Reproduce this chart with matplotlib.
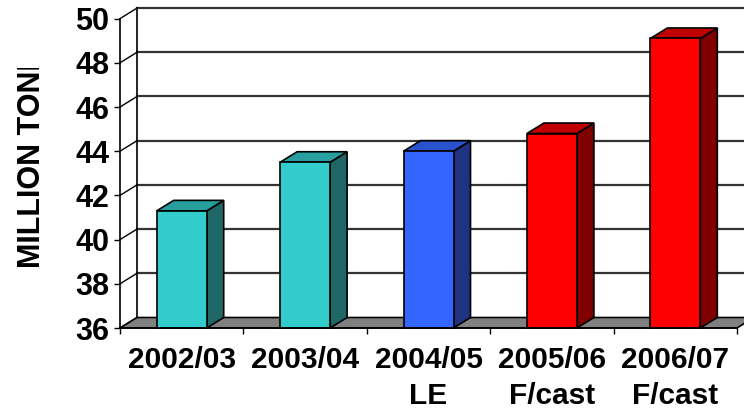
import numpy as np
import matplotlib
matplotlib.use("Agg")
import matplotlib.pyplot as plt
from matplotlib.patches import Polygon
from matplotlib.transforms import Bbox, TransformedBbox

categories = ["2002/03", "2003/04", "2004/05\nLE", "2005/06\nF/cast", "2006/07\nF/cast"]
values = [41.3, 43.5, 44.0, 44.8, 49.1]
face_colors = ["#33CCCC", "#33CCCC", "#3366FF", "#FF0000", "#FF0000"]
side_colors = ["#1F6666", "#1F6666", "#1F3380", "#800000", "#800000"]
top_colors = ["#299E9E", "#299E9E", "#2952CC", "#C00000", "#C00000"]
y_ticks = [36, 38, 40, 42, 44, 46, 48, 50]

plt.rcParams["font.family"] = ["Liberation Sans", "DejaVu Sans"]

fig = plt.figure(figsize=(7.44, 4.11), dpi=100)
ax = fig.add_axes([120 / 744, 83 / 411, 617 / 744, 309.4 / 411])
ax.set_xlim(0, 5)
ax.set_ylim(36, 50)

# depth offset of the pseudo-3D box, in data units
ddx = 17 / 123.4
ddy = 10.5 / 22.1
ymin, ymax = 36, 50
n = len(categories)

# floor
floor = Polygon([(0, ymin), (n, ymin), (n + ddx, ymin + ddy), (ddx, ymin + ddy)],
                closed=True, facecolor="#808080", edgecolor="black", lw=1.2,
                clip_on=False, zorder=1)
ax.add_patch(floor)

# back wall gridlines and side wall diagonals
for y in y_ticks:
    if y > ymin:
        ax.plot([ddx, n + ddx + 1], [y + ddy, y + ddy], color="#333333", lw=1.6,
                clip_on=False, zorder=0.5)
    ax.plot([0, ddx], [y, y + ddy], color="black", lw=1.0, clip_on=False, zorder=0.6)
ax.plot([ddx, ddx], [ymin + ddy, ymax + ddy], color="black", lw=1.2, clip_on=False, zorder=0.6)

# bars
w = 50 / 123.4
for i, (v, fc, sc, tc) in enumerate(zip(values, face_colors, side_colors, top_colors)):
    x0 = i + 0.5 - w / 2
    x1 = x0 + w
    front = Polygon([(x0, ymin), (x1, ymin), (x1, v), (x0, v)], facecolor=fc,
                    edgecolor="black", lw=1.2, clip_on=False, zorder=3)
    side = Polygon([(x1, ymin), (x1 + ddx, ymin + ddy), (x1 + ddx, v + ddy), (x1, v)],
                   facecolor=sc, edgecolor="black", lw=1.2, clip_on=False, zorder=2.9)
    top = Polygon([(x0, v), (x1, v), (x1 + ddx, v + ddy), (x0 + ddx, v + ddy)],
                  facecolor=tc, edgecolor="black", lw=1.2, clip_on=False, zorder=2.9)
    for p in (side, top, front):
        ax.add_patch(p)

for s in ["top", "right"]:
    ax.spines[s].set_visible(False)
ax.spines["left"].set_linewidth(1.2)
ax.spines["bottom"].set_linewidth(1.2)
ax.spines["bottom"].set_zorder(4)

ax.set_yticks(y_ticks)
ax.set_yticklabels([str(t) for t in y_ticks], fontsize=22, fontweight="bold")
ax.tick_params(axis="y", direction="out", length=4.5, width=1.0, pad=3)

ax.set_xticks(np.arange(n + 1))
ax.set_xticklabels([])
ax.set_xticks(np.arange(n) + 0.5, minor=True)
ax.set_xticklabels(categories, minor=True, fontsize=21.5, fontweight="bold", linespacing=1.36)
ax.tick_params(axis="x", which="major", direction="out", length=4.5, width=1.0)
ax.tick_params(axis="x", which="minor", length=0, pad=13)

ylab = fig.text(32 / 744, 1 - 268 / 411, "MILLION TONNES", rotation=90,
                rotation_mode="anchor", ha="left", va="center",
                fontsize=22, fontweight="bold",
                family=["Liberation Sans Narrow", "Liberation Sans", "DejaVu Sans"])
ylab.set_clip_box(TransformedBbox(Bbox([[0, 0], [1, 1 - 68 / 411]]), fig.transFigure))

fig.savefig("out.png", dpi=100)
